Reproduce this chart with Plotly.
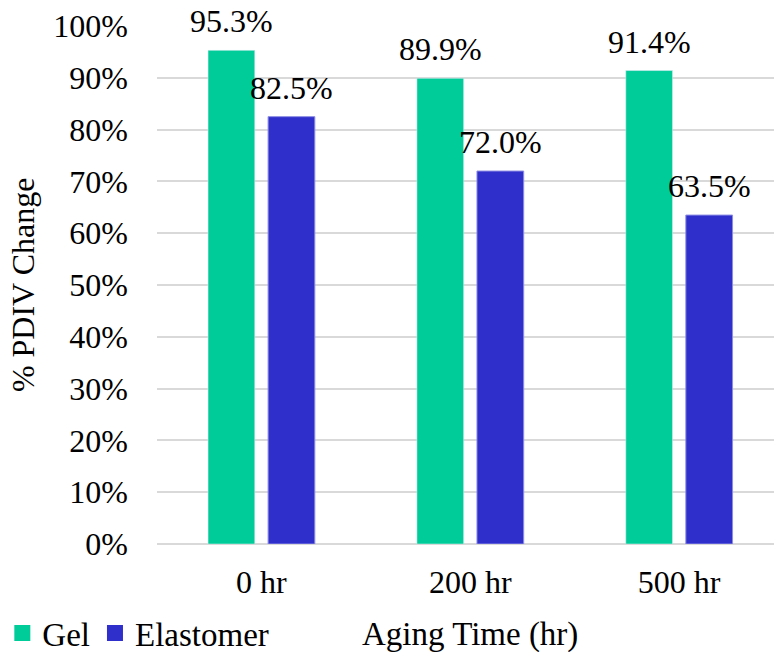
import plotly.graph_objects as go

# Data
categories = ["0 hr", "200 hr", "500 hr"]
gel = [95.3, 89.9, 91.4]
elastomer = [82.5, 72.0, 63.5]
y_ticks = list(range(0, 101, 10))
y_tick_labels = [f"{t}%" for t in y_ticks]

SERIF = "Liberation Serif"
GEL_COLOR = "#00CC99"
ELA_COLOR = "#2F2FCC"
GRID_COLOR = "#D9D9D9"
BARGAP = 0.425
BARGROUPGAP = 0.222
FONT_SIZE = 32
TITLE_SIZE = 33

fig = go.Figure()
fig.add_bar(name="Gel", x=categories, y=gel, marker=dict(color=GEL_COLOR),
            legendgroup="gel", showlegend=False)
fig.add_bar(name="Elastomer", x=categories, y=elastomer,
            marker=dict(color=ELA_COLOR, line=dict(color="#8C8CE4", width=1)),
            legendgroup="ela", showlegend=False)

# legend swatches (larger squares than the default bar swatch)
for name, color, group in (("Gel", GEL_COLOR, "gel"), ("Elastomer", ELA_COLOR, "ela")):
    fig.add_scatter(x=[None], y=[None], mode="markers", name=name, legendgroup=group,
                    marker=dict(symbol="square", size=16, color=color,
                                line=dict(width=0)))

# value labels above each bar
slot = (1 - BARGAP) / 2
for series, sign in ((gel, -1), (elastomer, 1)):
    for i, v in enumerate(series):
        fig.add_annotation(x=i + sign * slot / 2, y=v, xref="x", yref="y",
                           text=f"{v:.1f}%", showarrow=False,
                           yanchor="bottom", yshift=9,
                           font=dict(family=SERIF, size=FONT_SIZE, color="black"))

# x-axis title centred under the middle category
fig.add_annotation(x=1, y=-0.175, xref="x", yref="paper", text="Aging Time (hr)",
                   showarrow=False, yanchor="middle",
                   font=dict(family=SERIF, size=TITLE_SIZE, color="black"))

# y-axis title, rotated, left of the tick labels
fig.add_annotation(x=-0.217, y=0.5, xref="paper", yref="paper", text="% PDIV Change",
                   showarrow=False, textangle=-90, xanchor="center", yanchor="middle",
                   font=dict(family=SERIF, size=FONT_SIZE, color="black"))

fig.update_layout(
    width=774, height=652,
    margin=dict(l=157, r=0, t=26, b=108, autoexpand=False),
    paper_bgcolor="white", plot_bgcolor="white",
    barmode="group", bargap=BARGAP, bargroupgap=BARGROUPGAP,
    font=dict(family=SERIF, size=FONT_SIZE, color="black"),
    showlegend=True,
    legend=dict(orientation="h", xref="container", yref="paper",
                x=0.003, y=-0.172, xanchor="left", yanchor="middle",
                font=dict(family=SERIF, size=TITLE_SIZE, color="black"),
                itemwidth=30, tracegroupgap=0, itemsizing="trace"),
)
fig.update_xaxes(range=[-0.5, 2.454], showgrid=False, ticks="",
                 showline=False, zeroline=False,
                 tickfont=dict(family=SERIF, size=FONT_SIZE, color="black"),
                 ticklabelstandoff=16)
fig.update_yaxes(range=[0, 100], tickvals=y_ticks, ticktext=y_tick_labels,
                 showgrid=True, gridcolor=GRID_COLOR, gridwidth=1.5,
                 zeroline=True, zerolinecolor=GRID_COLOR, zerolinewidth=1.5,
                 showline=False, ticks="", ticklabelstandoff=28,
                 tickfont=dict(family=SERIF, size=FONT_SIZE, color="black"))

fig.write_html("out.html")
